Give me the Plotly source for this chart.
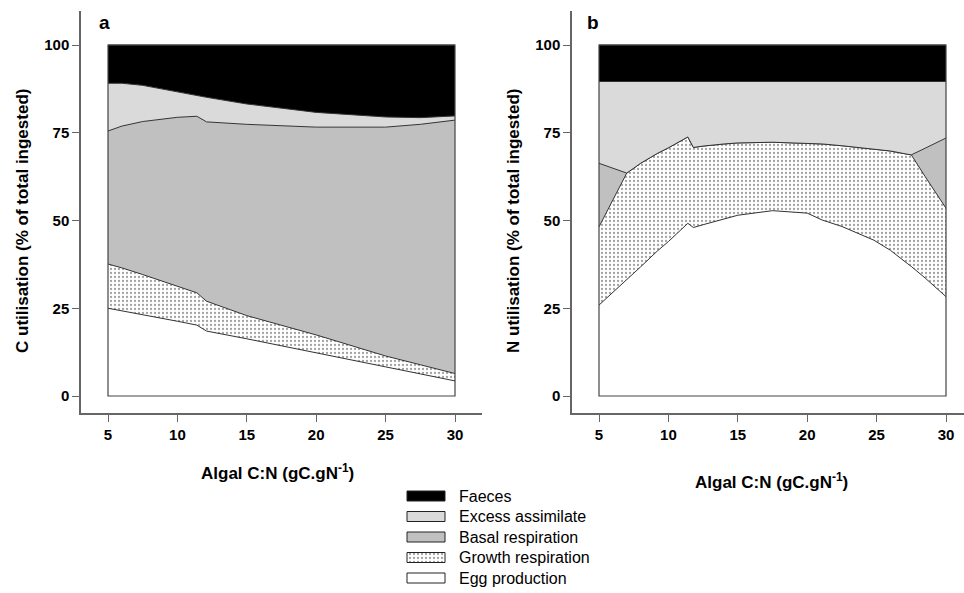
import plotly.graph_objects as go

# ---------------- Data (cumulative upper boundaries, % of total ingested) ----------------
categories = ["Egg production", "Growth respiration", "Basal respiration", "Excess assimilate", "Faeces"]

# Panel a: C utilisation
a_x = [5, 6, 7.5, 10, 11.4, 12.1, 15, 20, 25, 27.5, 30]
a_egg = [25.0, 24.3, 23.2, 21.3, 20.2, 18.5, 16.3, 12.4, 8.3, 6.3, 4.3]
a_growth = [37.6, 36.5, 34.6, 31.3, 29.4, 27.0, 22.9, 17.4, 11.4, 8.9, 6.4]
a_basal = [75.5, 76.9, 78.2, 79.4, 79.7, 78.1, 77.4, 76.6, 76.6, 77.4, 78.6]
a_excess = [89.1, 89.1, 88.5, 86.6, 85.6, 85.1, 83.2, 80.8, 79.5, 79.3, 79.8]
a_faeces = [100] * len(a_x)

# Panel b: N utilisation
b_x = [5, 6, 7, 8, 9.2, 10, 11.4, 11.8, 12.5, 14, 15, 17.5, 20, 21.1, 22.5, 24.8, 26, 27.2, 27.5, 28.5, 30]
b_egg = [25.9, 29.5, 33.0, 36.8, 41.3, 44.0, 49.2, 48.0, 48.8, 50.5, 51.5, 52.8, 52.1, 50.1, 48.3, 44.4, 41.5, 37.8, 36.9, 33.6, 28.3]
b_growth = [48.2, 56.0, 63.5, 66.3, 69.1, 70.7, 73.8, 70.8, 71.2, 71.8, 72.1, 72.3, 72.1, 71.8, 71.3, 70.4, 69.8, 68.9, 68.7, 62.5, 53.5]
b_basal = [66.3, 64.9, 63.5, 66.3, 69.1, 70.7, 73.8, 70.8, 71.2, 71.8, 72.1, 72.3, 72.1, 71.8, 71.3, 70.4, 69.8, 68.9, 68.7, 70.6, 73.5]
b_excess = [89.6] * len(b_x)
b_faeces = [100] * len(b_x)

x_ticks = [5, 10, 15, 20, 25, 30]
y_ticks = [0, 25, 50, 75, 100]

# ---------------- Styles ----------------
pattern = dict(shape=".", fgcolor="#444444", bgcolor="white", size=4, solidity=0.25)
fills = {
    "Egg production": dict(fillcolor="white"),
    "Growth respiration": dict(fillcolor="white", fillpattern=pattern),
    "Basal respiration": dict(fillcolor="#c0c0c0"),
    "Excess assimilate": dict(fillcolor="#dadada"),
    "Faeces": dict(fillcolor="black"),
}
line_style = dict(color="#333333", width=1)
FONT = "Liberation Sans, Arial"

fig = go.Figure()

def add_panel(x, layers, xa, ya):
    for i, (name, y) in enumerate(zip(categories, layers)):
        fig.add_trace(go.Scatter(
            x=x, y=y, name=name, mode="lines",
            line=line_style,
            fill="tozeroy" if i == 0 else "tonexty",
            showlegend=False,
            xaxis=xa, yaxis=ya, hoverinfo="skip",
            **fills[name]))
    # frame around the stacked area
    fig.add_shape(type="rect", xref=xa, yref=ya,
                  x0=min(x), x1=max(x), y0=0, y1=100,
                  line=dict(color="#444444", width=1.2), fillcolor="rgba(0,0,0,0)", layer="above")

add_panel(a_x, [a_egg, a_growth, a_basal, a_excess, a_faeces], "x", "y")
add_panel(b_x, [b_egg, b_growth, b_basal, b_excess, b_faeces], "x2", "y2")

# ---------------- Custom legend (swatches on a hidden pixel-scaled axis) ----------------
W, H = 964, 593
leg_x0, leg_x1 = 407, 445          # swatch left/right (px)
leg_top, leg_step, sw_h = 496, 20.5, 10
for k, name in enumerate(reversed(categories)):
    cy = leg_top + k * leg_step
    fig.add_trace(go.Scatter(
        x=[leg_x0, leg_x1, leg_x1, leg_x0, leg_x0],
        y=[cy - sw_h / 2, cy - sw_h / 2, cy + sw_h / 2, cy + sw_h / 2, cy - sw_h / 2],
        mode="lines", fill="toself", line=dict(color="#222222", width=1),
        showlegend=False, hoverinfo="skip", xaxis="x3", yaxis="y3", **fills[name]))
    fig.add_annotation(xref="paper", yref="paper", x=457 / W, y=1 - cy / H,
                       text=name, showarrow=False, xanchor="left", yanchor="middle",
                       font=dict(family=FONT, size=16, color="black"))

tickfont = dict(family=FONT, size=15, color="black", weight="bold")
axis_common = dict(showline=True, linecolor="#666666", linewidth=1.5, ticks="outside",
                   ticklen=7, tickcolor="#666666", tickwidth=1.3, showgrid=False,
                   zeroline=False, tickfont=tickfont)

y_top, y_bot = 11, 413
ydom = [1 - y_bot / H, 1 - y_top / H]
px_per_y = (396 - 45) / 100.0
yr = [-(y_bot - 396) / px_per_y, 100 + (45 - y_top) / px_per_y]
px_per_x = (455 - 108) / 25.0

fig.update_layout(
    width=W, height=H, margin=dict(l=0, r=0, t=0, b=0),
    paper_bgcolor="white", plot_bgcolor="rgba(0,0,0,0)", showlegend=False,
    xaxis=dict(domain=[81 / W, 482 / W], range=[5 - 27 / px_per_x, 30 + 27 / px_per_x],
               tickvals=x_ticks, anchor="y", **axis_common),
    yaxis=dict(domain=ydom, range=yr, tickvals=y_ticks, anchor="x", **axis_common),
    xaxis2=dict(domain=[572 / W, 1.0], range=[5 - 27 / px_per_x, 30 + 18 / px_per_x],
                tickvals=x_ticks, anchor="y2", **axis_common),
    yaxis2=dict(domain=ydom, range=yr, tickvals=y_ticks, anchor="x2", **axis_common),
    xaxis3=dict(domain=[400 / W, 452 / W], range=[400, 452], visible=False, anchor="y3", fixedrange=True),
    yaxis3=dict(domain=[1 - 592 / H, 1 - 484 / H], range=[592, 484], visible=False, anchor="x3", fixedrange=True),
)

title_font = dict(family=FONT, size=17, color="black", weight="bold")
ann = [
    dict(text="a", x=104 / W, y=1 - 23 / H, font=dict(family=FONT, size=19, color="black", weight="bold")),
    dict(text="b", x=593 / W, y=1 - 23 / H, font=dict(family=FONT, size=19, color="black", weight="bold")),
    dict(text="Algal C:N (gC.gN<sup>-1</sup>)", x=277 / W, y=1 - 472 / H, font=title_font),
    dict(text="Algal C:N (gC.gN<sup>-1</sup>)", x=771 / W, y=1 - 481 / H, font=title_font),
    dict(text="C utilisation (% of total ingested)", x=22 / W, y=1 - 221 / H, textangle=-90,
         font=dict(family=FONT, size=17, color="black", weight="bold")),
    dict(text="N utilisation (% of total ingested)", x=513 / W, y=1 - 221 / H, textangle=-90,
         font=dict(family=FONT, size=17, color="black", weight="bold")),
]
for a in ann:
    fig.add_annotation(xref="paper", yref="paper", showarrow=False, xanchor="center", yanchor="middle", **a)

fig.write_html("out.html")
